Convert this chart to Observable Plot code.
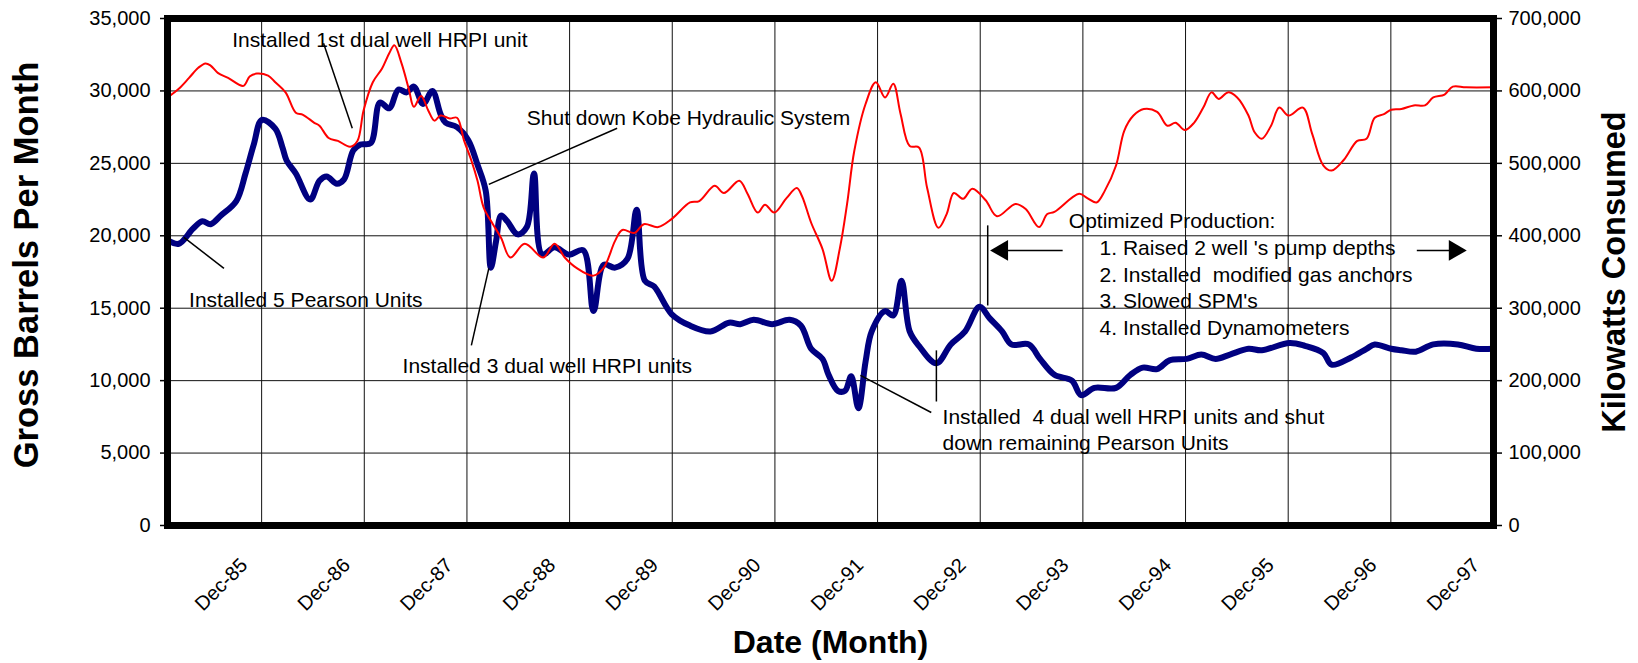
<!DOCTYPE html>
<html><head><meta charset="utf-8">
<script src="https://cdn.jsdelivr.net/npm/d3@7"></script>
<script src="https://cdn.jsdelivr.net/npm/@observablehq/plot@0.6"></script>
<style>
body{margin:0;background:#fff;}
svg text{white-space:pre;}
</style></head><body><div id="chart"></div>
<script>
// ---- data (decimal years; Jan-85 = 1985.00, Dec-xx = year + 11/12) ----
const barrelsYear = [1985.00,1985.11,1985.25,1985.34,1985.42,1985.52,1985.67,1985.76,1985.84,1985.92,
1986.05,1986.12,1986.16,1986.25,1986.39,1986.48,1986.55,1986.65,1986.72,1986.81,
1986.88,1986.98,1987.07,1987.16,1987.25,1987.33,1987.40,1987.49,1987.58,1987.66,
1987.71,1987.82,1987.93,1988.02,1988.10,1988.15,1988.20,1988.25,1988.31,1988.41,
1988.50,1988.57,1988.65,1988.77,1988.91,1989.05,1989.15,1989.25,1989.36,1989.48,
1989.57,1989.65,1989.74,1989.91,1990.09,1990.29,1990.47,1990.58,1990.71,1990.89,
1991.06,1991.17,1991.27,1991.38,1991.44,1991.53,1991.60,1991.66,1991.73,1991.80,
1991.86,1991.99,1992.07,1992.15,1992.23,1992.32,1992.49,1992.63,1992.77,1992.91,
1993.01,1993.13,1993.22,1993.39,1993.50,1993.64,1993.81,1993.90,1994.03,1994.24,
1994.38,1994.50,1994.64,1994.76,1994.93,1995.07,1995.21,1995.35,1995.53,1995.66,
1995.93,1996.08,1996.26,1996.34,1996.53,1996.68,1996.76,1996.92,1997.02,1997.16,
1997.33,1997.57,1997.75,1997.917];
const barrelsValue = [19700,19450,20500,21000,20800,21400,22400,24300,26300,28000,
27400,26100,25200,24300,22500,23800,24100,23600,23900,25900,
26300,26400,29200,28800,30100,29900,30300,29100,30000,28400,
27800,27500,26600,24900,23100,17800,19600,21400,21000,20100,
20600,24300,18700,19200,18700,19000,14800,18000,17800,18400,
21800,16900,16500,14600,13800,13400,14000,13900,14200,13900,
14200,13800,12200,11500,10400,9300,9300,10300,8100,11300,
13400,14800,14500,16900,13400,12400,11200,12500,13400,15100,
14300,13400,12500,12500,11500,10400,10000,9000,9500,9500,
10400,10900,10800,11400,11500,11800,11500,11800,12200,12100,
12600,12400,11900,11100,11600,12200,12500,12200,12100,12000,
12500,12500,12200,12200];

const kwYear = [1985.00,1985.11,1985.21,1985.30,1985.37,1985.42,1985.49,1985.59,1985.74,1985.80,
1985.87,1985.98,1986.05,1986.15,1986.25,1986.32,1986.43,1986.48,1986.57,1986.66,
1986.78,1986.85,1986.91,1987.00,1987.09,1987.16,1987.21,1987.28,1987.35,1987.40,
1987.47,1987.54,1987.60,1987.66,1987.75,1987.82,1987.89,1987.96,1988.02,1988.08,
1988.17,1988.25,1988.34,1988.48,1988.66,1988.77,1988.87,1988.98,1989.15,1989.25,
1989.36,1989.43,1989.55,1989.64,1989.78,1989.91,1990.09,1990.18,1990.33,1990.42,
1990.57,1990.65,1990.75,1990.82,1990.91,1991.03,1991.13,1991.18,1991.27,1991.38,
1991.47,1991.55,1991.62,1991.69,1991.80,1991.90,1991.99,1992.07,1992.14,1992.23,
1992.32,1992.40,1992.51,1992.59,1992.66,1992.75,1992.84,1992.97,1993.08,1993.26,
1993.36,1993.49,1993.57,1993.64,1993.88,1993.96,1994.05,1994.13,1994.24,1994.32,
1994.41,1994.51,1994.64,1994.74,1994.82,1994.91,1995.00,1995.09,1995.17,1995.24,
1995.33,1995.42,1995.53,1995.59,1995.66,1995.75,1995.83,1995.92,1996.06,1996.15,
1996.26,1996.34,1996.46,1996.59,1996.68,1996.76,1996.85,1996.92,1997.02,1997.14,
1997.25,1997.33,1997.44,1997.52,1997.65,1997.917];
const kwValue = [591000,603000,618000,632000,638000,635000,625000,618000,607000,620000,
624000,621000,612000,598000,570000,567000,556000,552000,535000,531000,
523000,531000,573000,612000,631000,652000,663000,638000,603000,578000,
593000,573000,559000,566000,562000,563000,531000,504000,476000,439000,
416000,397000,370000,389000,370000,389000,370000,356000,345000,356000,
393000,408000,404000,416000,412000,423000,446000,448000,469000,459000,
476000,458000,432000,443000,432000,452000,466000,455000,418000,382000,
338000,383000,444000,517000,582000,612000,591000,610000,569000,524000,
522000,466000,411000,430000,459000,451000,465000,449000,427000,444000,
437000,412000,430000,433000,458000,452000,446000,462000,497000,545000,
566000,575000,571000,552000,556000,546000,556000,577000,598000,589000,
598000,591000,566000,543000,534000,552000,577000,566000,577000,541000,
497000,490000,505000,531000,534000,563000,568000,574000,575000,580000,
580000,591000,595000,606000,605000,605000];

const leftTicks = [0,5000,10000,15000,20000,25000,30000,35000];
const rightTicks = [0,100000,200000,300000,400000,500000,600000,700000];
const xTickYear = [1985.917,1986.917,1987.917,1988.917,1989.917,1990.917,1991.917,1992.917,1993.917,1994.917,1995.917,1996.917,1997.917];
const xTickLabel = ["Dec-85","Dec-86","Dec-87","Dec-88","Dec-89","Dec-90","Dec-91","Dec-92","Dec-93","Dec-94","Dec-95","Dec-96","Dec-97"];

// annotations (data units)
const noteText = ["Installed 1st dual well HRPI unit","Shut down Kobe Hydraulic System","Installed 5 Pearson Units",
"Installed 3 dual well HRPI units","Installed  4 dual well HRPI units and shut","down remaining Pearson Units",
"Optimized Production:","1. Raised 2 well 's pump depths","2. Installed  modified gas anchors","3. Slowed SPM's","4. Installed Dynamometers"];
const noteYear = [1985.63,1988.50,1985.21,1987.29,1992.55,1992.55,1993.78,1994.08,1994.08,1994.08,1994.08];
const noteValue = [33010,27620,15060,10500,6980,5180,20510,18650,16820,14990,13160];

const leaderX1 = [1986.52,1989.38,1985.16,1988.13,1991.75,1992.49,1992.99,1993.72,1997.17];
const leaderY1 = [33290,27420,19890,17750,10360,12090,20720,18990,18990];
const leaderX2 = [1986.80,1988.13,1985.55,1987.96,1992.44,1992.49,1992.99,1993.13,1997.54];
const leaderY2 = [27420,23550,17750,12430,7800,8560,15190,18990,18990];

const headYear = [1993.13,1997.54];
const headValue = [18990,18990];
const headAngle = [-90,90];

// ---- tables ----
const ratio = rightTicks[rightTicks.length-1] / leftTicks[leftTicks.length-1];
const barrels = barrelsYear.map((x,i)=>({x, v: barrelsValue[i]}));
const kw = kwYear.map((x,i)=>({x, v: kwValue[i] / ratio}));
const notes = noteText.map((t,i)=>({t, x: noteYear[i], y: noteValue[i]}));
const leaders = leaderX1.map((x1,i)=>({x1, y1: leaderY1[i], x2: leaderX2[i], y2: leaderY2[i]}));
const heads = headYear.map((x,i)=>({x, y: headValue[i], a: headAngle[i]}));
const xticks = xTickYear.map((x,i)=>({x, t: xTickLabel[i]}));
const fmt = d3.format(",");
const font = "Arial, 'Liberation Sans', sans-serif";

const chart = Plot.plot({
  width: 1638, height: 663,
  marginLeft: 167, marginRight: 145, marginTop: 18, marginBottom: 138,
  style: {fontFamily: font, fontSize: "20px", background: "white", color: "black", overflow: "visible"},
  x: {type: "linear", domain: [1985, xTickYear[xTickYear.length-1]], axis: null},
  y: {domain: [leftTicks[0], leftTicks[leftTicks.length-1]], axis: null},
  marks: [
    Plot.ruleY(leftTicks.slice(1,-1), {stroke: "#111", strokeWidth: 1}),
    Plot.ruleX(xTickYear.slice(0,-1), {stroke: "#111", strokeWidth: 1}),
    Plot.line(barrels, {x: "x", y: "v", stroke: "#000080", strokeWidth: 6, curve: "catmull-rom", clip: true}),
    Plot.line(kw, {x: "x", y: "v", stroke: "#ff0000", strokeWidth: 2, curve: "catmull-rom", clip: true}),
    Plot.link(leaders, {x1: "x1", y1: "y1", x2: "x2", y2: "y2", stroke: "#000", strokeWidth: 1.5}),
    Plot.dot(heads, {x: "x", y: "y", symbol: "triangle", r: 7.7, rotate: "a", fill: "#000", stroke: "none"}),
    Plot.text(notes, {x: "x", y: "y", text: "t", textAnchor: "start", lineAnchor: "bottom", fontSize: 21, fill: "#000"}),
    Plot.frame({stroke: "#000", strokeWidth: 7}),
    Plot.axisY(leftTicks, {anchor: "left", tickFormat: fmt, tickSize: 7, tickPadding: 10, fontSize: 20, label: null, strokeWidth: 1.5}),
    Plot.axisY(leftTicks, {anchor: "right", tickFormat: d => fmt(d * ratio), tickSize: 8, tickPadding: 7, fontSize: 20, label: null, strokeWidth: 1.5}),
    Plot.text(xticks, {x: "x", y: () => 0, text: "t", rotate: -45, textAnchor: "end", lineAnchor: "bottom", dx: -13, dy: 41, fontSize: 20}),
    Plot.text(["Gross Barrels Per Month"], {frameAnchor: "left", rotate: -90, dx: -141, dy: -7, fontSize: 34.5, fontWeight: "bold", textAnchor: "middle", lineAnchor: "middle"}),
    Plot.text(["Kilowatts Consumed"], {frameAnchor: "right", rotate: -90, dx: 121, dy: 0, fontSize: 32.5, fontWeight: "bold", textAnchor: "middle", lineAnchor: "middle"}),
    Plot.text(["Date (Month)"], {frameAnchor: "bottom", dy: 127, fontSize: 32, fontWeight: "bold", textAnchor: "middle", lineAnchor: "bottom"})
  ]
});
document.getElementById("chart").appendChild(chart);
</script></body></html>
